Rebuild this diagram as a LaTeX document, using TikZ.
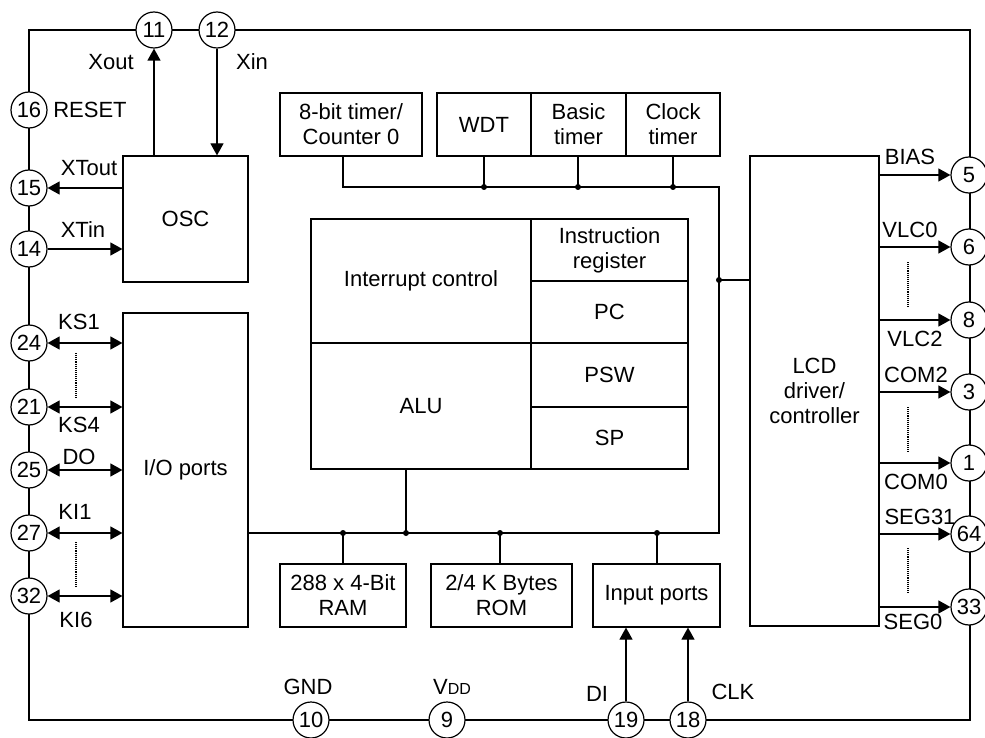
\documentclass[tikz,border=0pt]{standalone}
\usepackage{fontspec}
\setmainfont{Liberation Sans}
\usetikzlibrary{arrows.meta}
\begin{document}
\begin{tikzpicture}[x=1pt,y=-1pt,
  every node/.style={font=\fontsize{22}{25}\selectfont},
  box/.style={draw, line width=1.2pt, inner sep=0pt, align=center},
  pinc/.style={circle, draw, line width=1.2pt, fill=white, minimum size=36pt, inner sep=0pt},
  frame/.style={line width=2pt},
  wire/.style={line width=1.2pt},
  arr/.style={wire, -{Triangle[length=12pt,width=13pt]}},
  darr/.style={wire, {Triangle[length=12pt,width=13pt]}-{Triangle[length=12pt,width=13pt]}},
  jn/.style={circle, fill, inner sep=0pt, minimum size=6pt},
  lbl/.style={inner sep=0pt},
  dotl/.style={line width=1.1pt, densely dotted}]
\useasboundingbox (0,0) rectangle (985,738);
% frame
\draw[frame] (29,30) rectangle (970,720);
% pins
\node[pinc] (p11) at (154,30) {11};
\node[pinc] (p12) at (217,30) {12};
\node[pinc] (p16) at (29,110) {16};
\node[pinc] (p15) at (29,188) {15};
\node[pinc] (p14) at (29,249) {14};
\node[pinc] (p24) at (29,343) {24};
\node[pinc] (p21) at (29,407) {21};
\node[pinc] (p25) at (29,470) {25};
\node[pinc] (p27) at (29,533) {27};
\node[pinc] (p32) at (29,596) {32};
\node[pinc] (p5) at (969,175) {5};
\node[pinc] (p6) at (969,247) {6};
\node[pinc] (p8) at (969,320) {8};
\node[pinc] (p3) at (969,392) {3};
\node[pinc] (p1) at (969,463) {1};
\node[pinc] (p64) at (969,534) {64};
\node[pinc] (p33) at (969,607) {33};
\node[pinc] (p10) at (311,720) {10};
\node[pinc] (p9) at (447,720) {9};
\node[pinc] (p19) at (626,720) {19};
\node[pinc] (p18) at (688,720) {18};
% boxes
\node[box, minimum width=125pt, minimum height=126pt] (osc) at (185.5,219) {OSC};
\node[box, minimum width=125pt, minimum height=314pt] (io) at (185.5,470) {I/O ports};
\node[box, minimum width=142pt, minimum height=63pt] (tmr) at (351,124.5) {8-bit timer/\\Counter 0};
\node[box, minimum width=94pt, minimum height=63pt] (wdt) at (484,124.5) {WDT};
\node[box, minimum width=95pt, minimum height=63pt] (basic) at (578.5,124.5) {Basic\\timer};
\node[box, minimum width=94pt, minimum height=63pt] (clk) at (673,124.5) {Clock\\timer};
\node[box, minimum width=220pt, minimum height=124pt] (intr) at (421,281) {Interrupt control};
\node[box, minimum width=220pt, minimum height=126pt] (alu) at (421,406) {ALU};
\node[box, minimum width=157pt, minimum height=62pt] (ir) at (609.5,250) {Instruction\\register};
\node[box, minimum width=157pt, minimum height=62pt] (pc) at (609.5,312) {PC};
\node[box, minimum width=157pt, minimum height=64pt] (psw) at (609.5,375) {PSW};
\node[box, minimum width=157pt, minimum height=62pt] (sp) at (609.5,438) {SP};
\node[box, minimum width=129pt, minimum height=470pt] (lcd) at (814.5,391) {LCD\\driver/\\controller};
\node[box, minimum width=126pt, minimum height=63pt] (ram) at (343,595.5) {288 x 4-Bit\\RAM};
\node[box, minimum width=141pt, minimum height=63pt] (rom) at (501.5,595.5) {2/4 K Bytes\\ROM};
\node[box, minimum width=127pt, minimum height=63pt] (inp) at (656.5,595.5) {Input ports};
% junctions
\node[jn] (j1) at (484,187) {};
\node[jn] (j2) at (578,187) {};
\node[jn] (j3) at (673,187) {};
\node[jn] (j4) at (719,280) {};
\node[jn] (b1) at (343,533) {};
\node[jn] (b2) at (406,533) {};
\node[jn] (b3) at (500,533) {};
\node[jn] (b4) at (657,533) {};
\coordinate (tc) at (719,187);
\coordinate (bc) at (719,533);
% timer bus
\draw[wire] (tmr.south -| 343,0) -- (343,187) -- (tc) -- (bc) -- (io.east |- bc);
\draw[wire] (wdt.south) -- (j1.center);
\draw[wire] (basic.south -| j2) -- (j2.center);
\draw[wire] (clk.south) -- (j3.center);
\draw[wire] (j4.center) -- (lcd.west |- j4);
\draw[wire] (alu.south -| b2) -- (b2.center);
\draw[wire] (b1.center) -- (ram.north);
\draw[wire] (b3.center) -- (rom.north -| b3);
\draw[wire] (b4.center) -- (inp.north -| b4);
% OSC connections
\draw[arr] (osc.north -| p11) -- (p11);
\draw[arr] (p12) -- (osc.north -| p12);
\draw[arr] (osc.west |- p15) -- (p15);
\draw[arr] (p14) -- (osc.west |- p14);
% IO
\draw[darr] (p24) -- (io.west |- p24);
\draw[darr] (p21) -- (io.west |- p21);
\draw[darr] (p25) -- (io.west |- p25);
\draw[darr] (p27) -- (io.west |- p27);
\draw[darr] (p32) -- (io.west |- p32);
\draw[dotl] (76,353) -- (76,398);
\draw[dotl] (76,542) -- (76,587);
% LCD
\draw[arr] (lcd.east |- p5) -- (p5);
\draw[arr] (lcd.east |- p6) -- (p6);
\draw[arr] (lcd.east |- p8) -- (p8);
\draw[arr] (lcd.east |- p3) -- (p3);
\draw[arr] (lcd.east |- p1) -- (p1);
\draw[arr] (lcd.east |- p64) -- (p64);
\draw[arr] (lcd.east |- p33) -- (p33);
\draw[dotl] (908,262) -- (908,307);
\draw[dotl] (908,407) -- (908,452);
\draw[dotl] (908,548) -- (908,593);
% input ports
\draw[arr] (p19) -- (inp.south -| p19);
\draw[arr] (p18) -- (inp.south -| p18);
% labels
\node[lbl] (lxout) at (111,62) {Xout};
\node[lbl] (lxin) at (252,62) {Xin};
\node[lbl] (lrst) at (90,110) {RESET};
\node[lbl] (lxto) at (89,168) {XTout};
\node[lbl] (lxti) at (83,230) {XTin};
\node[lbl] (lks1) at (79,322) {KS1};
\node[lbl] (lks4) at (79,425) {KS4};
\node[lbl] (ldo) at (79,457) {DO};
\node[lbl] (lki1) at (75,512) {KI1};
\node[lbl] (lki6) at (76,620) {KI6};
\node[lbl] (lbias) at (910,157) {BIAS};
\node[lbl] (lvlc0) at (910,230) {VLC0};
\node[lbl] (lvlc2) at (915,339) {VLC2};
\node[lbl] (lcom2) at (916,375) {COM2};
\node[lbl] (lcom0) at (916,482) {COM0};
\node[lbl] (lseg31) at (920,517) {SEG31};
\node[lbl] (lseg0) at (913,622) {SEG0};
\node[lbl] (lgnd) at (308,687) {GND};
\node[lbl] (lvdd) at (452,687) {V{\fontsize{16}{16}\selectfont DD}};
\node[lbl] (ldi) at (597,694) {DI};
\node[lbl] (lclk) at (733,692) {CLK};
\end{tikzpicture}
\end{document}
